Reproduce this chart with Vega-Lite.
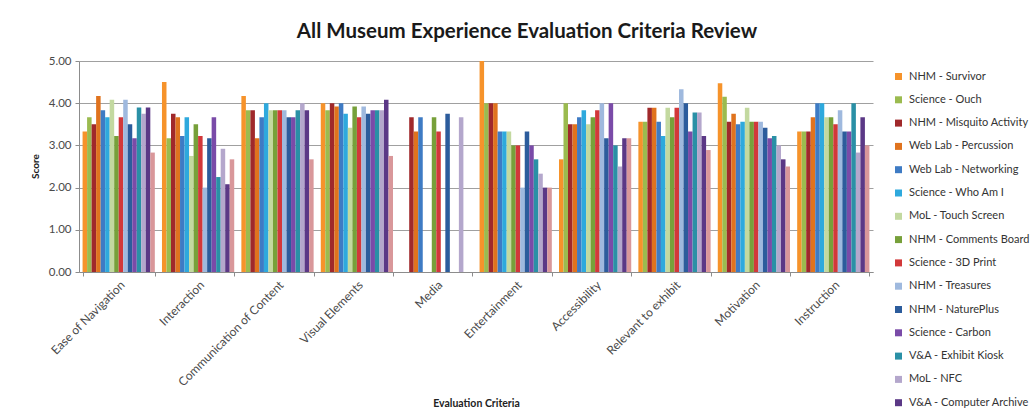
{
  "$schema": "https://vega.github.io/schema/vega-lite/v6.json",
  "width": 794,
  "height": 211,
  "autosize": {"type": "none"},
  "padding": {"left": 79, "top": 61, "right": 161, "bottom": 148},
  "background": "white",
  "title": {"text": "All Museum Experience Evaluation Criteria Review", "font": "Lato", "fontSize": 20.5, "fontWeight": "bold", "color": "#1a1a1a", "anchor": "middle", "frame": "group", "dx": 51, "offset": 13},
  "config": {"view": {"stroke": null}},
  "datasets": {
    "scores": [
      {"criterion": "Ease of Navigation", "exhibit": "NHM - Survivor", "score": 3.33},
      {"criterion": "Ease of Navigation", "exhibit": "Science - Ouch", "score": 3.67},
      {"criterion": "Ease of Navigation", "exhibit": "NHM - Misquito Activity", "score": 3.5},
      {"criterion": "Ease of Navigation", "exhibit": "Web Lab - Percussion", "score": 4.17},
      {"criterion": "Ease of Navigation", "exhibit": "Web Lab - Networking", "score": 3.83},
      {"criterion": "Ease of Navigation", "exhibit": "Science - Who Am I", "score": 3.67},
      {"criterion": "Ease of Navigation", "exhibit": "MoL - Touch Screen", "score": 4.08},
      {"criterion": "Ease of Navigation", "exhibit": "NHM - Comments Board", "score": 3.22},
      {"criterion": "Ease of Navigation", "exhibit": "Science - 3D Print", "score": 3.67},
      {"criterion": "Ease of Navigation", "exhibit": "NHM - Treasures", "score": 4.08},
      {"criterion": "Ease of Navigation", "exhibit": "NHM - NaturePlus", "score": 3.5},
      {"criterion": "Ease of Navigation", "exhibit": "Science - Carbon", "score": 3.17},
      {"criterion": "Ease of Navigation", "exhibit": "V&A - Exhibit Kiosk", "score": 3.9},
      {"criterion": "Ease of Navigation", "exhibit": "MoL - NFC", "score": 3.75},
      {"criterion": "Ease of Navigation", "exhibit": "V&A - Computer Archive", "score": 3.9},
      {"criterion": "Ease of Navigation", "exhibit": "Series 16", "score": 2.83},

      {"criterion": "Interaction", "exhibit": "NHM - Survivor", "score": 4.5},
      {"criterion": "Interaction", "exhibit": "Science - Ouch", "score": 3.17},
      {"criterion": "Interaction", "exhibit": "NHM - Misquito Activity", "score": 3.75},
      {"criterion": "Interaction", "exhibit": "Web Lab - Percussion", "score": 3.67},
      {"criterion": "Interaction", "exhibit": "Web Lab - Networking", "score": 3.22},
      {"criterion": "Interaction", "exhibit": "Science - Who Am I", "score": 3.67},
      {"criterion": "Interaction", "exhibit": "MoL - Touch Screen", "score": 2.75},
      {"criterion": "Interaction", "exhibit": "NHM - Comments Board", "score": 3.5},
      {"criterion": "Interaction", "exhibit": "Science - 3D Print", "score": 3.22},
      {"criterion": "Interaction", "exhibit": "NHM - Treasures", "score": 2.0},
      {"criterion": "Interaction", "exhibit": "NHM - NaturePlus", "score": 3.17},
      {"criterion": "Interaction", "exhibit": "Science - Carbon", "score": 3.67},
      {"criterion": "Interaction", "exhibit": "V&A - Exhibit Kiosk", "score": 2.25},
      {"criterion": "Interaction", "exhibit": "MoL - NFC", "score": 2.92},
      {"criterion": "Interaction", "exhibit": "V&A - Computer Archive", "score": 2.08},
      {"criterion": "Interaction", "exhibit": "Series 16", "score": 2.67},

      {"criterion": "Communication of Content", "exhibit": "NHM - Survivor", "score": 4.17},
      {"criterion": "Communication of Content", "exhibit": "Science - Ouch", "score": 3.83},
      {"criterion": "Communication of Content", "exhibit": "NHM - Misquito Activity", "score": 3.83},
      {"criterion": "Communication of Content", "exhibit": "Web Lab - Percussion", "score": 3.17},
      {"criterion": "Communication of Content", "exhibit": "Web Lab - Networking", "score": 3.67},
      {"criterion": "Communication of Content", "exhibit": "Science - Who Am I", "score": 4.0},
      {"criterion": "Communication of Content", "exhibit": "MoL - Touch Screen", "score": 3.83},
      {"criterion": "Communication of Content", "exhibit": "NHM - Comments Board", "score": 3.83},
      {"criterion": "Communication of Content", "exhibit": "Science - 3D Print", "score": 3.83},
      {"criterion": "Communication of Content", "exhibit": "NHM - Treasures", "score": 3.83},
      {"criterion": "Communication of Content", "exhibit": "NHM - NaturePlus", "score": 3.67},
      {"criterion": "Communication of Content", "exhibit": "Science - Carbon", "score": 3.67},
      {"criterion": "Communication of Content", "exhibit": "V&A - Exhibit Kiosk", "score": 3.83},
      {"criterion": "Communication of Content", "exhibit": "MoL - NFC", "score": 4.0},
      {"criterion": "Communication of Content", "exhibit": "V&A - Computer Archive", "score": 3.83},
      {"criterion": "Communication of Content", "exhibit": "Series 16", "score": 2.67},

      {"criterion": "Visual Elements", "exhibit": "NHM - Survivor", "score": 4.0},
      {"criterion": "Visual Elements", "exhibit": "Science - Ouch", "score": 3.83},
      {"criterion": "Visual Elements", "exhibit": "NHM - Misquito Activity", "score": 4.0},
      {"criterion": "Visual Elements", "exhibit": "Web Lab - Percussion", "score": 3.92},
      {"criterion": "Visual Elements", "exhibit": "Web Lab - Networking", "score": 4.0},
      {"criterion": "Visual Elements", "exhibit": "Science - Who Am I", "score": 3.75},
      {"criterion": "Visual Elements", "exhibit": "MoL - Touch Screen", "score": 3.42},
      {"criterion": "Visual Elements", "exhibit": "NHM - Comments Board", "score": 3.92},
      {"criterion": "Visual Elements", "exhibit": "Science - 3D Print", "score": 3.67},
      {"criterion": "Visual Elements", "exhibit": "NHM - Treasures", "score": 3.92},
      {"criterion": "Visual Elements", "exhibit": "NHM - NaturePlus", "score": 3.75},
      {"criterion": "Visual Elements", "exhibit": "Science - Carbon", "score": 3.83},
      {"criterion": "Visual Elements", "exhibit": "V&A - Exhibit Kiosk", "score": 3.83},
      {"criterion": "Visual Elements", "exhibit": "MoL - NFC", "score": 3.83},
      {"criterion": "Visual Elements", "exhibit": "V&A - Computer Archive", "score": 4.08},
      {"criterion": "Visual Elements", "exhibit": "Series 16", "score": 2.75},

      {"criterion": "Media", "exhibit": "NHM - Misquito Activity", "score": 3.67},
      {"criterion": "Media", "exhibit": "Web Lab - Percussion", "score": 3.33},
      {"criterion": "Media", "exhibit": "Web Lab - Networking", "score": 3.67},
      {"criterion": "Media", "exhibit": "NHM - Comments Board", "score": 3.67},
      {"criterion": "Media", "exhibit": "Science - 3D Print", "score": 3.33},
      {"criterion": "Media", "exhibit": "NHM - NaturePlus", "score": 3.75},
      {"criterion": "Media", "exhibit": "MoL - NFC", "score": 3.67},

      {"criterion": "Entertainment", "exhibit": "NHM - Survivor", "score": 5.0},
      {"criterion": "Entertainment", "exhibit": "Science - Ouch", "score": 4.0},
      {"criterion": "Entertainment", "exhibit": "NHM - Misquito Activity", "score": 4.0},
      {"criterion": "Entertainment", "exhibit": "Web Lab - Percussion", "score": 4.0},
      {"criterion": "Entertainment", "exhibit": "Web Lab - Networking", "score": 3.33},
      {"criterion": "Entertainment", "exhibit": "Science - Who Am I", "score": 3.33},
      {"criterion": "Entertainment", "exhibit": "MoL - Touch Screen", "score": 3.33},
      {"criterion": "Entertainment", "exhibit": "NHM - Comments Board", "score": 3.0},
      {"criterion": "Entertainment", "exhibit": "Science - 3D Print", "score": 3.0},
      {"criterion": "Entertainment", "exhibit": "NHM - Treasures", "score": 2.0},
      {"criterion": "Entertainment", "exhibit": "NHM - NaturePlus", "score": 3.33},
      {"criterion": "Entertainment", "exhibit": "Science - Carbon", "score": 3.0},
      {"criterion": "Entertainment", "exhibit": "V&A - Exhibit Kiosk", "score": 2.67},
      {"criterion": "Entertainment", "exhibit": "MoL - NFC", "score": 2.33},
      {"criterion": "Entertainment", "exhibit": "V&A - Computer Archive", "score": 2.0},
      {"criterion": "Entertainment", "exhibit": "Series 16", "score": 2.0},

      {"criterion": "Accessibility", "exhibit": "NHM - Survivor", "score": 2.67},
      {"criterion": "Accessibility", "exhibit": "Science - Ouch", "score": 4.0},
      {"criterion": "Accessibility", "exhibit": "NHM - Misquito Activity", "score": 3.5},
      {"criterion": "Accessibility", "exhibit": "Web Lab - Percussion", "score": 3.5},
      {"criterion": "Accessibility", "exhibit": "Web Lab - Networking", "score": 3.67},
      {"criterion": "Accessibility", "exhibit": "Science - Who Am I", "score": 3.83},
      {"criterion": "Accessibility", "exhibit": "MoL - Touch Screen", "score": 3.5},
      {"criterion": "Accessibility", "exhibit": "NHM - Comments Board", "score": 3.67},
      {"criterion": "Accessibility", "exhibit": "Science - 3D Print", "score": 3.83},
      {"criterion": "Accessibility", "exhibit": "NHM - Treasures", "score": 4.0},
      {"criterion": "Accessibility", "exhibit": "NHM - NaturePlus", "score": 3.17},
      {"criterion": "Accessibility", "exhibit": "Science - Carbon", "score": 4.0},
      {"criterion": "Accessibility", "exhibit": "V&A - Exhibit Kiosk", "score": 3.0},
      {"criterion": "Accessibility", "exhibit": "MoL - NFC", "score": 2.5},
      {"criterion": "Accessibility", "exhibit": "V&A - Computer Archive", "score": 3.17},
      {"criterion": "Accessibility", "exhibit": "Series 16", "score": 3.17},

      {"criterion": "Relevant to exhibit", "exhibit": "NHM - Survivor", "score": 3.56},
      {"criterion": "Relevant to exhibit", "exhibit": "Science - Ouch", "score": 3.56},
      {"criterion": "Relevant to exhibit", "exhibit": "NHM - Misquito Activity", "score": 3.89},
      {"criterion": "Relevant to exhibit", "exhibit": "Web Lab - Percussion", "score": 3.89},
      {"criterion": "Relevant to exhibit", "exhibit": "Web Lab - Networking", "score": 3.56},
      {"criterion": "Relevant to exhibit", "exhibit": "Science - Who Am I", "score": 3.22},
      {"criterion": "Relevant to exhibit", "exhibit": "MoL - Touch Screen", "score": 3.89},
      {"criterion": "Relevant to exhibit", "exhibit": "NHM - Comments Board", "score": 3.67},
      {"criterion": "Relevant to exhibit", "exhibit": "Science - 3D Print", "score": 3.89},
      {"criterion": "Relevant to exhibit", "exhibit": "NHM - Treasures", "score": 4.33},
      {"criterion": "Relevant to exhibit", "exhibit": "NHM - NaturePlus", "score": 4.0},
      {"criterion": "Relevant to exhibit", "exhibit": "Science - Carbon", "score": 3.33},
      {"criterion": "Relevant to exhibit", "exhibit": "V&A - Exhibit Kiosk", "score": 3.78},
      {"criterion": "Relevant to exhibit", "exhibit": "MoL - NFC", "score": 3.78},
      {"criterion": "Relevant to exhibit", "exhibit": "V&A - Computer Archive", "score": 3.22},
      {"criterion": "Relevant to exhibit", "exhibit": "Series 16", "score": 2.89},

      {"criterion": "Motivation", "exhibit": "NHM - Survivor", "score": 4.47},
      {"criterion": "Motivation", "exhibit": "Science - Ouch", "score": 4.15},
      {"criterion": "Motivation", "exhibit": "NHM - Misquito Activity", "score": 3.56},
      {"criterion": "Motivation", "exhibit": "Web Lab - Percussion", "score": 3.75},
      {"criterion": "Motivation", "exhibit": "Web Lab - Networking", "score": 3.5},
      {"criterion": "Motivation", "exhibit": "Science - Who Am I", "score": 3.56},
      {"criterion": "Motivation", "exhibit": "MoL - Touch Screen", "score": 3.89},
      {"criterion": "Motivation", "exhibit": "NHM - Comments Board", "score": 3.56},
      {"criterion": "Motivation", "exhibit": "Science - 3D Print", "score": 3.56},
      {"criterion": "Motivation", "exhibit": "NHM - Treasures", "score": 3.56},
      {"criterion": "Motivation", "exhibit": "NHM - NaturePlus", "score": 3.42},
      {"criterion": "Motivation", "exhibit": "Science - Carbon", "score": 3.17},
      {"criterion": "Motivation", "exhibit": "V&A - Exhibit Kiosk", "score": 3.22},
      {"criterion": "Motivation", "exhibit": "MoL - NFC", "score": 3.0},
      {"criterion": "Motivation", "exhibit": "V&A - Computer Archive", "score": 2.67},
      {"criterion": "Motivation", "exhibit": "Series 16", "score": 2.5},

      {"criterion": "Instruction", "exhibit": "NHM - Survivor", "score": 3.33},
      {"criterion": "Instruction", "exhibit": "Science - Ouch", "score": 3.33},
      {"criterion": "Instruction", "exhibit": "NHM - Misquito Activity", "score": 3.33},
      {"criterion": "Instruction", "exhibit": "Web Lab - Percussion", "score": 3.67},
      {"criterion": "Instruction", "exhibit": "Web Lab - Networking", "score": 4.0},
      {"criterion": "Instruction", "exhibit": "Science - Who Am I", "score": 4.0},
      {"criterion": "Instruction", "exhibit": "MoL - Touch Screen", "score": 3.67},
      {"criterion": "Instruction", "exhibit": "NHM - Comments Board", "score": 3.67},
      {"criterion": "Instruction", "exhibit": "Science - 3D Print", "score": 3.5},
      {"criterion": "Instruction", "exhibit": "NHM - Treasures", "score": 3.83},
      {"criterion": "Instruction", "exhibit": "NHM - NaturePlus", "score": 3.33},
      {"criterion": "Instruction", "exhibit": "Science - Carbon", "score": 3.33},
      {"criterion": "Instruction", "exhibit": "V&A - Exhibit Kiosk", "score": 4.0},
      {"criterion": "Instruction", "exhibit": "MoL - NFC", "score": 2.83},
      {"criterion": "Instruction", "exhibit": "V&A - Computer Archive", "score": 3.67},
      {"criterion": "Instruction", "exhibit": "Series 16", "score": 3.0}
    ]
  },
  "data": {"name": "scores"},
  "mark": {"type": "bar"},
  "encoding": {
    "x": {
      "field": "criterion", "type": "nominal",
      "sort": ["Ease of Navigation", "Interaction", "Communication of Content", "Visual Elements", "Media", "Entertainment", "Accessibility", "Relevant to exhibit", "Motivation", "Instruction"],
      "scale": {"paddingInner": 0.09, "paddingOuter": 0.045},
      "axis": {
        "title": "Evaluation  Criteria", "labelAngle": -45, "tickBand": "extent", "tickSize": 4,
        "domainColor": "#8c8c8c", "tickColor": "#8c8c8c", "grid": false,
        "labelFont": "Lato", "labelFontSize": 12, "labelColor": "#4a4a4a", "labelPadding": 3,
        "titleFont": "Lato", "titleFontSize": 10.5, "titleFontWeight": "bold", "titleColor": "#222222",
        "titleY": 131, "titleBaseline": "middle"
      }
    },
    "xOffset": {
      "field": "exhibit", "type": "nominal",
      "sort": ["NHM - Survivor", "Science - Ouch", "NHM - Misquito Activity", "Web Lab - Percussion", "Web Lab - Networking", "Science - Who Am I", "MoL - Touch Screen", "NHM - Comments Board", "Science - 3D Print", "NHM - Treasures", "NHM - NaturePlus", "Science - Carbon", "V&A - Exhibit Kiosk", "MoL - NFC", "V&A - Computer Archive", "Series 16"],
      "scale": {"paddingInner": 0, "paddingOuter": 0}
    },
    "y": {
      "field": "score", "type": "quantitative",
      "scale": {"domain": [0, 5], "nice": false},
      "axis": {
        "title": "Score", "values": [0, 1, 2, 3, 4, 5], "format": ".2f",
        "grid": true, "gridColor": "#a0a0a0", "domainColor": "#8c8c8c", "tickColor": "#8c8c8c",
        "tickSize": 4, "labelPadding": 4,
        "labelFont": "Lato", "labelFontSize": 11.5, "labelColor": "#4a4a4a",
        "titleFont": "Lato", "titleFontSize": 10, "titleFontWeight": "bold", "titleColor": "#222222",
        "titleX": -44, "titleY": 105, "titleAngle": -90, "titleAlign": "center", "titleBaseline": "middle"
      }
    },
    "color": {
      "field": "exhibit", "type": "nominal",
      "scale": {
        "domain": ["NHM - Survivor", "Science - Ouch", "NHM - Misquito Activity", "Web Lab - Percussion", "Web Lab - Networking", "Science - Who Am I", "MoL - Touch Screen", "NHM - Comments Board", "Science - 3D Print", "NHM - Treasures", "NHM - NaturePlus", "Science - Carbon", "V&A - Exhibit Kiosk", "MoL - NFC", "V&A - Computer Archive", "Series 16"],
        "range": ["#F6932B", "#9BBB4F", "#A0292B", "#E0731E", "#3E7BC4", "#2EA9DD", "#C3D9A0", "#77A03A", "#D2383A", "#9FB9DE", "#2C5C9C", "#7A4BA8", "#2A90A6", "#B4A7CC", "#5B3886", "#D9979A"]
      },
      "legend": {
        "values": ["NHM - Survivor", "Science - Ouch", "NHM - Misquito Activity", "Web Lab - Percussion", "Web Lab - Networking", "Science - Who Am I", "MoL - Touch Screen", "NHM - Comments Board", "Science - 3D Print", "NHM - Treasures", "NHM - NaturePlus", "Science - Carbon", "V&A - Exhibit Kiosk", "MoL - NFC", "V&A - Computer Archive"],
        "orient": "none", "legendX": 814, "legendY": 10, "title": null,
        "symbolType": "square", "symbolSize": 49, "symbolStrokeWidth": 0,
        "labelFont": "Lato", "labelFontSize": 11, "labelColor": "#333333", "labelOffset": 5,
        "rowPadding": 11.3
      }
    }
  }
}
